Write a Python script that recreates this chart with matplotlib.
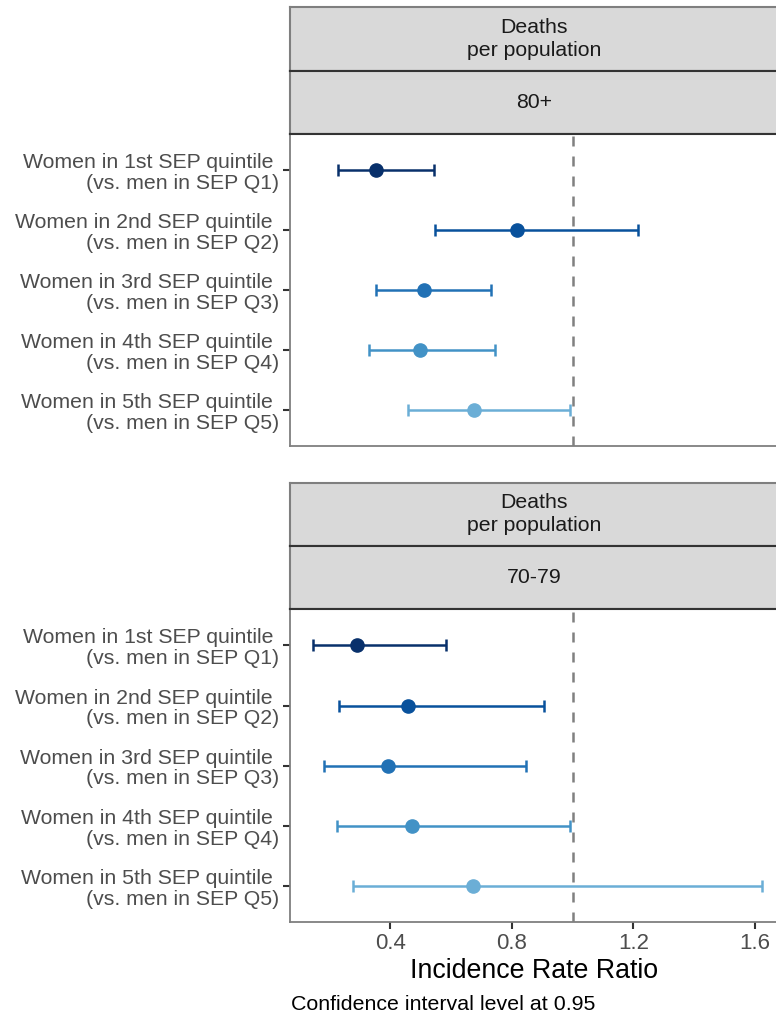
import numpy as np
import matplotlib
matplotlib.use("Agg")
import matplotlib.pyplot as plt

plt.rcParams['font.family'] = ['Liberation Sans', 'DejaVu Sans']

# y labels (quintile comparisons)
labels = ["Women in 1st SEP quintile \n(vs. men in SEP Q1)",
          "Women in 2nd SEP quintile \n(vs. men in SEP Q2)",
          "Women in 3rd SEP quintile \n(vs. men in SEP Q3)",
          "Women in 4th SEP quintile \n(vs. men in SEP Q4)",
          "Women in 5th SEP quintile \n(vs. men in SEP Q5)"]
colors = ["#08306B", "#08519C", "#2171B5", "#4292C6", "#6BAED6"]

# panel 80+
irr_80 = [0.354, 0.818, 0.510, 0.497, 0.675]
lo_80 = [0.228, 0.549, 0.355, 0.331, 0.460]
hi_80 = [0.545, 1.216, 0.732, 0.746, 0.992]

# panel 70-79
irr_70 = [0.292, 0.458, 0.394, 0.471, 0.673]
lo_70 = [0.145, 0.232, 0.184, 0.224, 0.278]
hi_70 = [0.583, 0.907, 0.847, 0.993, 1.625]

strip_top = "Deaths\nper population"
groups = ["80+", "70-79"]
xticks = [0.4, 0.8, 1.2, 1.6]

W, H = 776, 1019
fig = plt.figure(figsize=(W / 100, H / 100), dpi=100)

def px_axes(x0, y0, x1, y1):
    # pixel box (top-left origin) -> figure axes
    return fig.add_axes([x0 / W, 1 - y1 / H, (x1 - x0) / W, (y1 - y0) / H])

def draw_panel(y_strip, y_mid, y_plot, y_bot, group, est, lo, hi, show_x):
    # strips
    for k, (a, b, txt) in enumerate([(y_strip, y_mid, strip_top), (y_mid, y_plot, group)]):
        s = px_axes(290, a, 778, b)
        s.set_facecolor("#D9D9D9")
        s.set_xticks([])
        s.set_yticks([])
        for sp in s.spines.values():
            sp.set_color("#333333")
            sp.set_linewidth(1.5)
        if k == 0:
            s.spines['top'].set_color("#7F7F7F")
        s.spines['left'].set_color("#7F7F7F")
        s.text(0.5, 0.5, txt, ha="center", va="center", fontsize=15.3,
               color="#1A1A1A", linespacing=1.25, transform=s.transAxes)

    ax = px_axes(290, y_plot, 778, y_bot)
    y = np.arange(1, len(labels) + 1)
    for i in range(len(labels)):
        ax.errorbar(est[i], y[i], xerr=[[est[i] - lo[i]], [hi[i] - est[i]]],
                    fmt="o", color=colors[i], ecolor=colors[i], markersize=9.5,
                    elinewidth=1.8, capsize=4.3, capthick=1.8, zorder=3)
    ax.axvline(1.0, color="#808080", linewidth=1.8, linestyle=(0, (4, 4)), zorder=2)
    ax.set_xlim(0.0707, 1.676)
    ax.set_ylim(5.6, 0.4)
    ax.set_yticks(y)
    ax.set_yticklabels(labels, fontsize=15.3, color="#4D4D4D", linespacing=1.12)
    for sp in ax.spines.values():
        sp.set_color("#7F7F7F")
        sp.set_linewidth(1.3)
    ax.spines['top'].set_color("#333333")
    ax.spines['top'].set_linewidth(1.5)
    ax.spines['right'].set_visible(False)
    ax.tick_params(axis="y", length=5, width=1.5, color="#333333", pad=3)
    if show_x:
        ax.set_xticks(xticks)
        ax.set_xticklabels([f"{t:.1f}" for t in xticks], fontsize=16, color="#4D4D4D")
        ax.tick_params(axis="x", length=5, width=1.5, color="#333333", pad=3)
        ax.set_xlabel("Incidence Rate Ratio", fontsize=19.3, color="#000000", labelpad=3)
    else:
        ax.set_xticks([])
    return ax

draw_panel(7, 70.7, 134, 446, groups[0], irr_80, lo_80, hi_80, False)
draw_panel(482.7, 546, 609.3, 922, groups[1], irr_70, lo_70, hi_70, True)

fig.text(291 / W, 1 - 1005 / H, "Confidence interval level at 0.95",
         ha="left", va="center", fontsize=15.4, color="#000000")

fig.savefig("out.png", dpi=100)
